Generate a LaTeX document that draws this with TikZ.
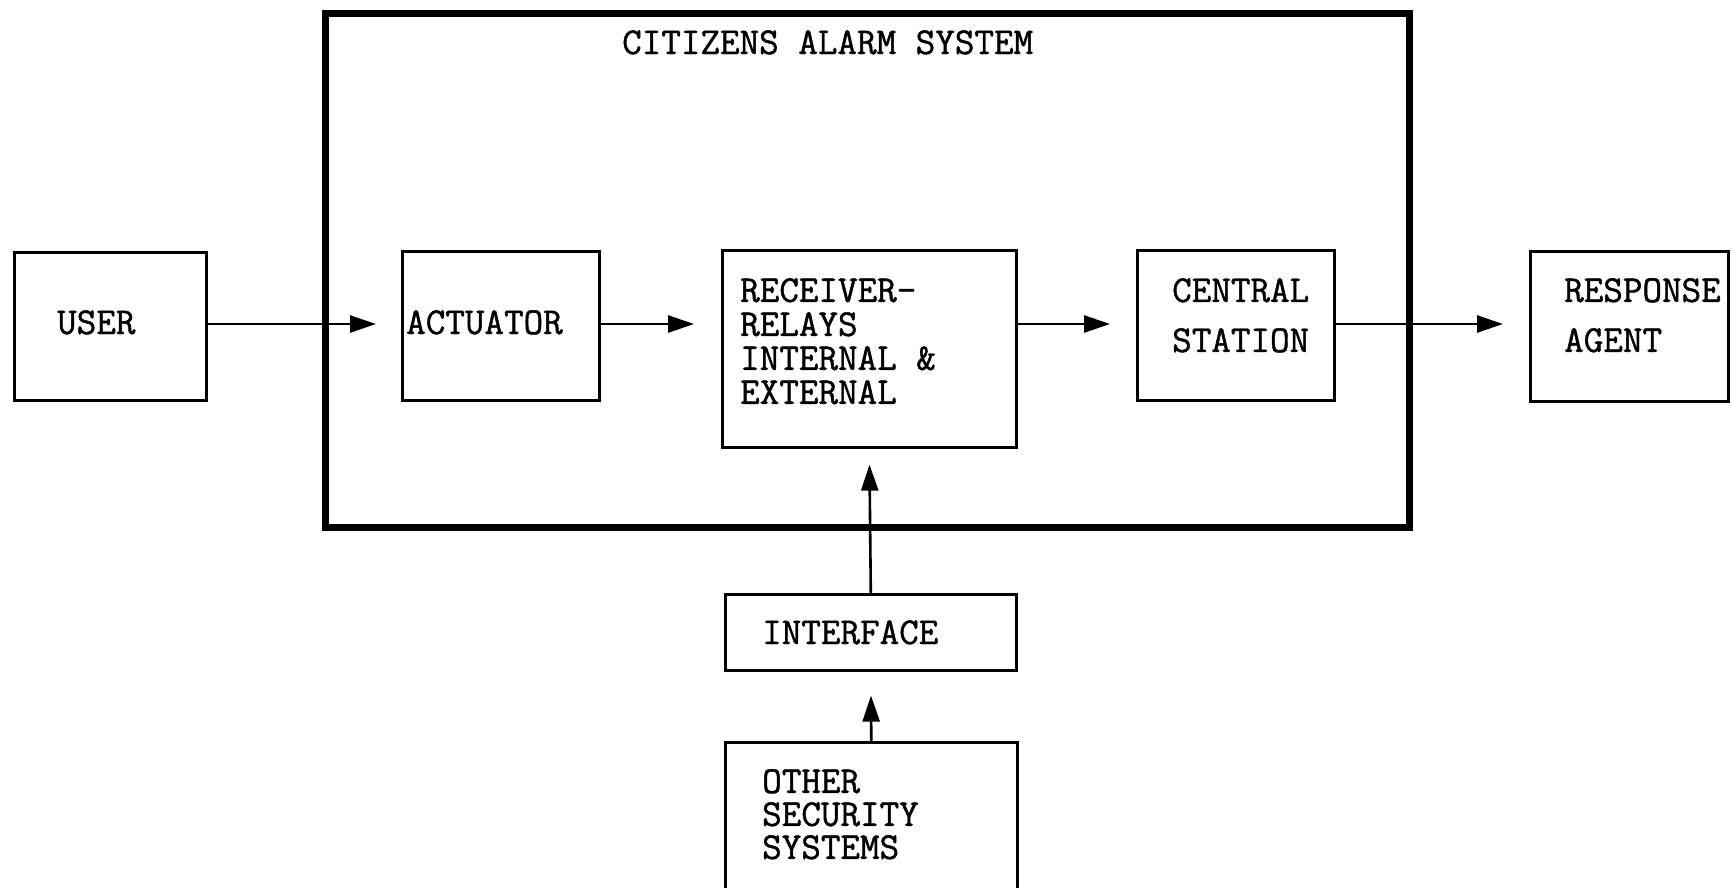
\documentclass[tikz,border=0pt]{standalone}
\usepackage{fontspec}
\newfontfamily\typewr[FakeBold=1.2]{Latin Modern Mono}
\usetikzlibrary{arrows.meta}
\begin{document}
\begin{tikzpicture}[x=1pt,y=-1pt,
  box/.style={draw,line width=2.6pt,inner sep=0pt,anchor=north west},
  frame/.style={draw,line width=7pt,inner sep=0pt,anchor=north west},
  txt/.style={inner sep=0pt,font=\fontsize{38}{34}\selectfont\typewr,align=left},
  flow/.style={line width=2.6pt,-{Triangle[length=26pt,width=17pt]}}]
\useasboundingbox (0,0) rectangle (1732,887);
\clip (0,0) rectangle (1732,887);
\fill[white] (0,0) rectangle (1732,887);
% frame
\node[frame,minimum width=1084pt,minimum height=514pt] (sys) at (322,10) {};
\node[txt,anchor=base west] (title) at (622,54) {CITIZENS ALARM SYSTEM};
% boxes
\node[box,minimum width=192pt,minimum height=148pt] (user) at (13,251) {};
\node[box,minimum width=197pt,minimum height=149pt] (act) at (401,250) {};
\node[box,minimum width=294pt,minimum height=197pt] (rec) at (721,249) {};
\node[box,minimum width=197pt,minimum height=150pt] (cen) at (1136,249) {};
\node[box,minimum width=198pt,minimum height=150pt] (resp) at (1529,250) {};
\node[box,minimum width=291pt,minimum height=76pt] (intf) at (724,593) {};
\node[box,minimum width=292pt,minimum height=200pt] (oth) at (724,741) {};
% texts
\node[txt,anchor=base west] (tuser) at (57,334) {USER};
\node[txt,anchor=base west] (tact) at (406,334) {ACTUATOR};
\node[txt,anchor=north west] (trec) at (740,278) {RECEIVER-\\RELAYS\\INTERNAL \&\\EXTERNAL};
\node[txt,anchor=north west,font=\fontsize{38}{50}\selectfont\typewr] (tcen) at (1172,278) {CENTRAL\\STATION};
\node[txt,anchor=north west,font=\fontsize{38}{50}\selectfont\typewr] (tresp) at (1564,278) {RESPONSE\\AGENT};
\node[txt,anchor=base west] (tintf) at (762,644) {INTERFACE};
\node[txt,anchor=north west,font=\fontsize{38}{33}\selectfont\typewr] (toth) at (762,769) {OTHER\\SECURITY\\SYSTEMS};
% connectors
\coordinate (y0) at (0,324);
\draw[flow,shorten >=25pt] (user.east |- y0) -- (act.west |- y0);
\draw[flow,shorten >=27pt] (act.east |- y0) -- (rec.west |- y0);
\draw[flow,shorten >=26pt] (rec.east |- y0) -- (cen.west |- y0);
\draw[flow,shorten >=26pt] (cen.east |- y0) -- (resp.west |- y0);
\draw[flow,shorten >=16pt] (intf.north) -- (rec.south);
\draw[flow,shorten >=24pt] (oth.north) -- (intf.south);
\end{tikzpicture}
\end{document}
